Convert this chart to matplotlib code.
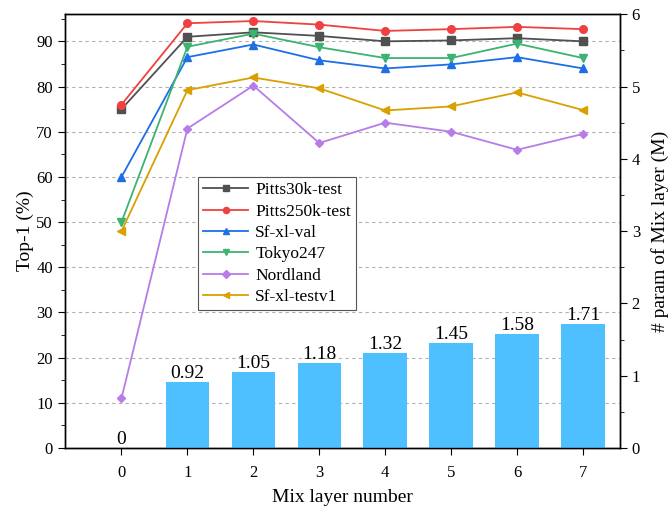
import numpy as np
import matplotlib
matplotlib.use("Agg")
import matplotlib.pyplot as plt
from matplotlib.ticker import MultipleLocator

plt.rcParams['font.family'] = ['Liberation Serif', 'DejaVu Serif']

# ---- data ----
layers = [0, 1, 2, 3, 4, 5, 6, 7]
params_m = [0, 0.92, 1.05, 1.18, 1.32, 1.45, 1.58, 1.71]

pitts30k = [75.0, 91.0, 92.0, 91.2, 90.0, 90.2, 90.7, 90.0]
pitts250k = [76.0, 94.0, 94.5, 93.7, 92.3, 92.7, 93.2, 92.7]
sfxl_val = [60.0, 86.5, 89.3, 85.8, 84.0, 84.9, 86.5, 84.0]
tokyo247 = [50.0, 88.8, 91.7, 88.7, 86.3, 86.3, 89.5, 86.3]
nordland = [11.0, 70.7, 80.2, 67.5, 72.0, 70.0, 66.0, 69.5]
sfxl_testv1 = [48.0, 79.2, 82.0, 79.6, 74.7, 75.6, 78.7, 74.8]

series = [
    ("Pitts30k-test", pitts30k, '#505050', 's'),
    ("Pitts250k-test", pitts250k, '#f04040', 'o'),
    ("Sf-xl-val", sfxl_val, '#1e6fe6', '^'),
    ("Tokyo247", tokyo247, '#3cb371', 'v'),
    ("Nordland", nordland, '#b77ce8', 'D'),
    ("Sf-xl-testv1", sfxl_testv1, '#d9a000', '<'),
]

fig, ax1 = plt.subplots(figsize=(6.68, 5.08), dpi=100)
fig.subplots_adjust(left=0.097, right=0.928, top=0.972, bottom=0.118)

ax1.yaxis.grid(True, linestyle=(0, (3, 3)), color='#b0b0b0', linewidth=0.8)
ax1.set_axisbelow(True)

for name, vals, col, mk in series:
    ms = 4.5 if mk == 'D' else 5.5
    ax1.plot(layers, vals, color=col, marker=mk, markersize=ms, linewidth=1.3, label=name)

ax1.set_xlim(-0.86, 7.56)
ax1.set_ylim(0, 96)
ax1.set_xticks(layers)
ax1.yaxis.set_major_locator(MultipleLocator(10))
ax1.yaxis.set_minor_locator(MultipleLocator(5))
ax1.set_xlabel("Mix layer number", fontsize=14, labelpad=6)
ax1.set_ylabel("Top-1 (%)", fontsize=14, labelpad=2)
ax1.tick_params(axis='both', which='major', labelsize=12, length=5, direction='out')
ax1.tick_params(axis='x', which='major', pad=7)
ax1.tick_params(axis='y', which='minor', length=3, direction='out')

ax2 = ax1.twinx()
bars = ax2.bar(layers, params_m, width=0.66, color='#4fc0ff', zorder=2)
ax2.bar_label(bars, labels=[f"{v:g}" if v == 0 else f"{v:.2f}" for v in params_m],
              fontsize=14, padding=0)
ax2.set_ylim(0, 6)
ax2.yaxis.set_major_locator(MultipleLocator(1))
ax2.yaxis.set_minor_locator(MultipleLocator(0.5))
ax2.set_ylabel("# param of Mix layer (M)", fontsize=14, labelpad=8)
ax2.tick_params(axis='y', which='major', labelsize=12, length=5, direction='out')
ax2.tick_params(axis='y', which='minor', length=3, direction='out')

for ax in (ax1, ax2):
    for sp in ax.spines.values():
        sp.set_linewidth(1.0)

leg = ax1.legend(loc='upper left', bbox_to_anchor=(0.24, 0.625), fontsize=12.5,
                 frameon=True, fancybox=False, edgecolor='#555555', framealpha=1,
                 handlelength=2.6, borderpad=0.3, labelspacing=0.3,
                 borderaxespad=0, handletextpad=0.4, markerscale=0.8)
leg.get_frame().set_linewidth(0.8)

fig.savefig("out.png", dpi=100)
